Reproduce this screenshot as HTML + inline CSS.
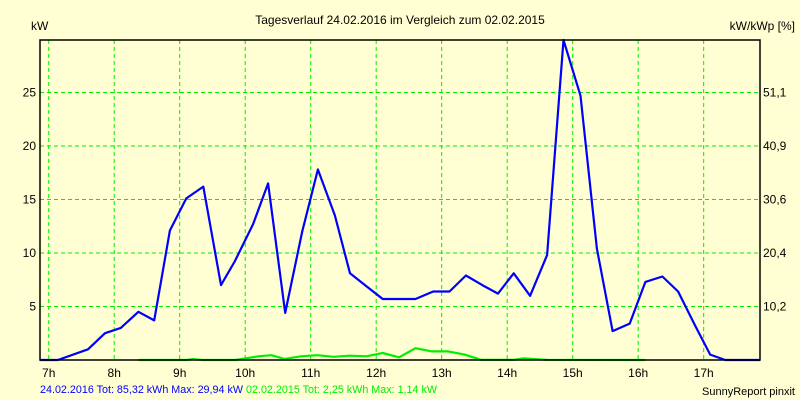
<!DOCTYPE html>
<html><head><meta charset="utf-8">
<style>
html,body{margin:0;padding:0;background:#FFFFD3;}
svg{display:block;font-family:"Liberation Sans",sans-serif;}
</style></head>
<body>
<svg id="chart" width="800" height="400" viewBox="0 0 800 400" xmlns="http://www.w3.org/2000/svg">
<rect width="800" height="400" fill="#FFFFD3"/>
<text x="400" y="24" text-anchor="middle" font-size="12" fill="#000">Tagesverlauf 24.02.2016 im Vergleich zum 02.02.2015</text>
<text x="31" y="30" font-size="12" fill="#000">kW</text>
<text x="795" y="30" text-anchor="end" font-size="12" fill="#000">kW/kWp [%]</text>
<g id="grid"></g>
<g id="series"></g>
<rect x="40" y="40" width="720" height="320" fill="none" stroke="#000" stroke-width="1.5"/>
<g id="labels"></g>
<text x="40" y="393" font-size="11" fill="#0000FF" textLength="203" lengthAdjust="spacingAndGlyphs">24.02.2016 Tot: 85,32 kWh Max: 29,94 kW</text>
<text x="246" y="393" font-size="11" fill="#00EE00" textLength="191" lengthAdjust="spacingAndGlyphs">02.02.2015 Tot: 2,25 kWh Max: 1,14 kW</text>
<text x="795" y="395" text-anchor="end" font-size="11" fill="#000">SunnyReport pinxit</text>
</svg>
<script>
const hourTicks=[7,8,9,10,11,12,13,14,15,16,17];
const kwTicks=[5,10,15,20,25];
const pctLabels=["10,2","20,4","30,6","40,9","51,1"];
const blueTimes=[6.87,7.14,7.60,7.86,8.10,8.37,8.61,8.85,9.10,9.36,9.63,9.84,10.12,10.35,10.61,10.87,11.11,11.37,11.60,11.87,12.10,12.60,12.87,13.12,13.37,13.62,13.86,14.10,14.35,14.61,14.86,15.12,15.37,15.61,15.87,16.11,16.37,16.61,16.87,17.10,17.33,17.86];
const blueValues=[0,0,1.0,2.5,3.0,4.5,3.7,12.1,15.1,16.2,7.0,9.2,12.7,16.5,4.4,12.0,17.8,13.5,8.1,6.8,5.7,5.7,6.4,6.4,7.9,7.0,6.2,8.1,6.0,9.8,29.9,24.7,10.4,2.7,3.4,7.3,7.8,6.4,3.2,0.5,0,0];
const greenTimes=[8.37,9.10,9.20,9.35,9.85,10.0,10.2,10.4,10.6,10.85,11.1,11.35,11.6,11.85,12.1,12.35,12.6,12.85,13.1,13.35,13.6,14.1,14.25,14.6,16.1];
const greenValues=[0,0,0.08,0,0,0.15,0.35,0.45,0.1,0.35,0.45,0.3,0.4,0.35,0.65,0.25,1.1,0.8,0.8,0.5,0.02,0.02,0.15,0.02,0];

const X0=40,X1=760,Y0=360,Y1=40,TMIN=6.867,TMAX=17.86,VMAX=29.9;
function xs(t){return X0+(t-TMIN)/(TMAX-TMIN)*(X1-X0);}
function ys(v){return Y0-v/VMAX*(Y0-Y1);}
const NS="http://www.w3.org/2000/svg";
const grid=document.getElementById('grid'),series=document.getElementById('series'),labels=document.getElementById('labels');
function mk(tag,attrs,parent){const e=document.createElementNS(NS,tag);for(const k in attrs)e.setAttribute(k,attrs[k]);parent.appendChild(e);return e;}
hourTicks.forEach(h=>{
  const x=xs(h);
  const l=mk('line',{x1:x,x2:x,y1:Y1,y2:Y0,stroke:'#00EE00','stroke-dasharray':'4,3'},grid);
  
  
  const t=mk('text',{x:x,y:377,'text-anchor':'middle','font-size':12,fill:'#000'},labels);
  t.textContent=h+'h';
  
  
});
kwTicks.forEach((v,i)=>{
  const y=ys(v);
  const l=mk('line',{x1:X0,x2:X1,y1:y,y2:y,stroke:'#00EE00','stroke-dasharray':'4,3'},grid);
  
  
  const t=mk('text',{x:36,y:y+4,'text-anchor':'end','font-size':12,fill:'#000'},labels);
  t.textContent=v;
  
  
  const r=mk('text',{x:763,y:y+4,'font-size':12,fill:'#000'},labels);
  r.textContent=pctLabels[i];
  
  
});
function line(ts,vs,color,name){
  const pts=ts.map((t,i)=>xs(t).toFixed(1)+','+ys(vs[i]).toFixed(1)).join(' ');
  const p=mk('polyline',{points:pts,fill:'none',stroke:color,'stroke-width':2.2,'stroke-linejoin':'round'},series);
  
  
}
line(greenTimes,greenValues,'#00EE00','series-2015-line');
line(blueTimes,blueValues,'#0000FF','series-2016-line');
</script>
</body></html>
